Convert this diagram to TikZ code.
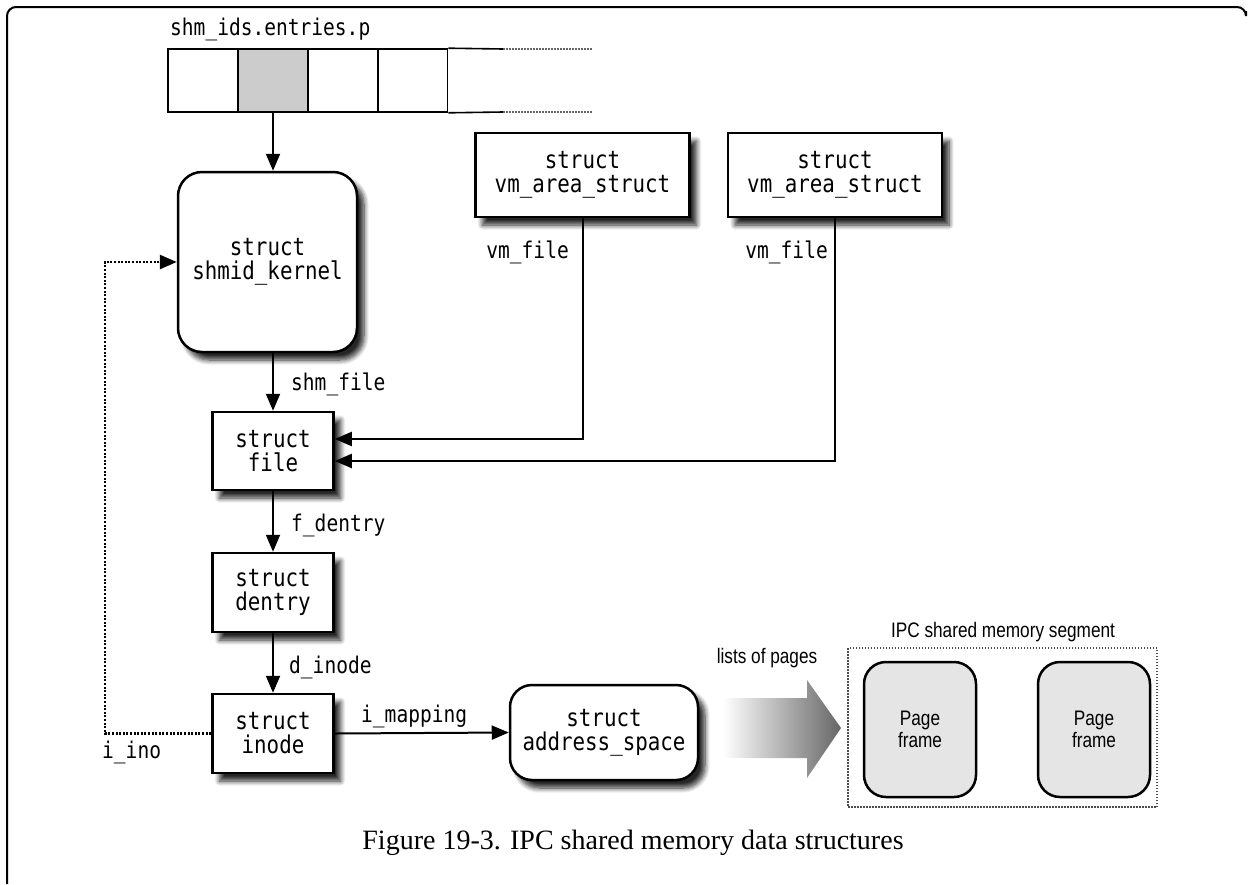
\documentclass[tikz,border=0pt]{standalone}
\usepackage{fontspec}
\setmainfont{Liberation Serif}
\setmonofont{DejaVu Sans Mono}[FakeStretch=0.85]
\newfontfamily\sansc{Liberation Sans}[FakeStretch=0.82]
\usetikzlibrary{arrows.meta,calc,shadows.blur}
\begin{document}
\begin{tikzpicture}[x=1pt,y=-1pt,
  box/.style={draw, line width=2.5pt, fill=white, align=center, inner sep=0pt,
    font=\ttfamily\fontsize{24.5}{24}\selectfont},
  sh/.style={blur shadow={shadow xshift=7pt, shadow yshift=-8pt, shadow blur radius=5pt, shadow blur steps=8, shadow opacity=85}},
  lbl/.style={inner sep=0pt, font=\ttfamily\fontsize{23}{23}\selectfont},
  cell/.style={draw, line width=1.6pt, minimum width=70pt, minimum height=63pt, inner sep=0pt},
  arr/.style={line width=2pt, -{Triangle[length=17pt,width=14pt]}},
  dotarr/.style={line width=2.6pt, dash pattern=on 2pt off 1.6pt, -{Triangle[length=17pt,width=14pt]}},
  pframe/.style={draw, line width=2.5pt, fill=black!10, rounded corners=22pt, align=center, inner sep=0pt,
    minimum width=112pt, minimum height=135pt, font=\sansc\fontsize{21}{22}\selectfont},
  sanslbl/.style={inner sep=0pt, font=\sansc\fontsize{21}{22}\selectfont}
]
\useasboundingbox (0,0) rectangle (1249,884);
% frame
\draw[line width=2pt, rounded corners=9pt] (7,884) -- (7,7) -- (1246,7) -- (1246,11);

% array
\node[lbl, anchor=base west] (arrlbl) at (170,35) {shm\_ids.entries.p};
\node[cell] (c1) at (203,80.5) {};
\node[cell, fill=black!20] (c2) at (273,80.5) {};
\node[cell] (c3) at (343,80.5) {};
\node[cell] (c4) at (412.5,80.5) {};
\coordinate (ta) at (503,49);
\coordinate (tb) at (592,49);
\coordinate (ba) at (503,112);
\coordinate (bb) at (592,112);
\draw[line width=1.6pt] (c4.north east) -- (ta);
\draw[line width=1.6pt] (c4.south east) -- (ba);
\draw[line width=1.4pt, black!60, dash pattern=on 1.5pt off 1.5pt] (ta) -- (tb);
\draw[line width=1.4pt, black!60, dash pattern=on 1.5pt off 1.5pt] (ba) -- (bb);

% boxes
\node[box, sh, rounded corners=24pt, minimum width=179pt, minimum height=180pt] (shmid) at (267.5,262) {struct\\shmid\_kernel};
\node[box, sh, minimum width=214pt, minimum height=84pt] (vm1) at (582.5,175) {struct\\vm\_area\_struct};
\node[box, sh, minimum width=214pt, minimum height=84pt] (vm2) at (835,175) {struct\\vm\_area\_struct};
\node[box, sh, minimum width=121pt, minimum height=78pt] (file) at (273,451) {struct\\file};
\node[box, sh, minimum width=121pt, minimum height=79pt] (dentry) at (273,592.5) {struct\\dentry};
\node[box, sh, minimum width=121pt, minimum height=79pt] (inode) at (273,733.5) {struct\\inode};
\node[box, sh, rounded corners=22pt, minimum width=188pt, minimum height=95pt] (addr) at (604,732.5) {struct\\address\_space};

% labels
\node[lbl, anchor=base east] (vmf1) at (569,258) {vm\_file};
\node[lbl, anchor=base east] (vmf2) at (828,258) {vm\_file};
\node[lbl, anchor=base west] (shmf) at (291,390) {shm\_file};
\node[lbl, anchor=base west] (fden) at (291,531) {f\_dentry};
\node[lbl, anchor=base west] (dino) at (289,673) {d\_inode};
\node[lbl, anchor=base west] (imap) at (361,722) {i\_mapping};
\node[lbl, anchor=base west] (iino) at (102,758) {i\_ino};

% connectors
\draw[arr] (c2.south) -- (c2.south |- shmid.north);
\draw[arr] (shmid.south -| file.north) -- (file.north);
\draw[arr] (vm1.south) |- ($(file.east)+(0,-12)$);
\draw[arr] (vm2.south) |- ($(file.east)+(0,10)$);
\draw[arr] (file.south) -- (dentry.north);
\draw[arr] (dentry.south) -- (inode.north);
\draw[arr] (inode.east) -- (addr.west);
\coordinate (ino) at (105,733.5);
\draw[dotarr] (inode.west) -- (ino) |- (shmid.west);

% lists of pages arrow
\shade[left color=white, right color=black!60]
  (723,698) -- (807,698) -- (807,680) -- (841,728) -- (807,778) -- (807,758) -- (723,758) -- cycle;
\node[sanslbl] (lop) at (767,658) {lists of pages};

% IPC segment
\node[draw, line width=1.5pt, black!70, dash pattern=on 1.5pt off 1.5pt, minimum width=309pt, minimum height=159pt] (seg) at (1002.5,727.5) {};
\node[sanslbl] (seglbl) at (1003,632) {IPC shared memory segment};
\node[pframe] (pf1) at (920,729.5) {Page\\frame};
\node[pframe] (pf2) at (1094,729.5) {Page\\frame};

% caption
\node[inner sep=0pt, font=\fontsize{28}{30}\selectfont] (cap) at (633,843) {Figure 19-3. IPC shared memory data structures};
\end{tikzpicture}
\end{document}
